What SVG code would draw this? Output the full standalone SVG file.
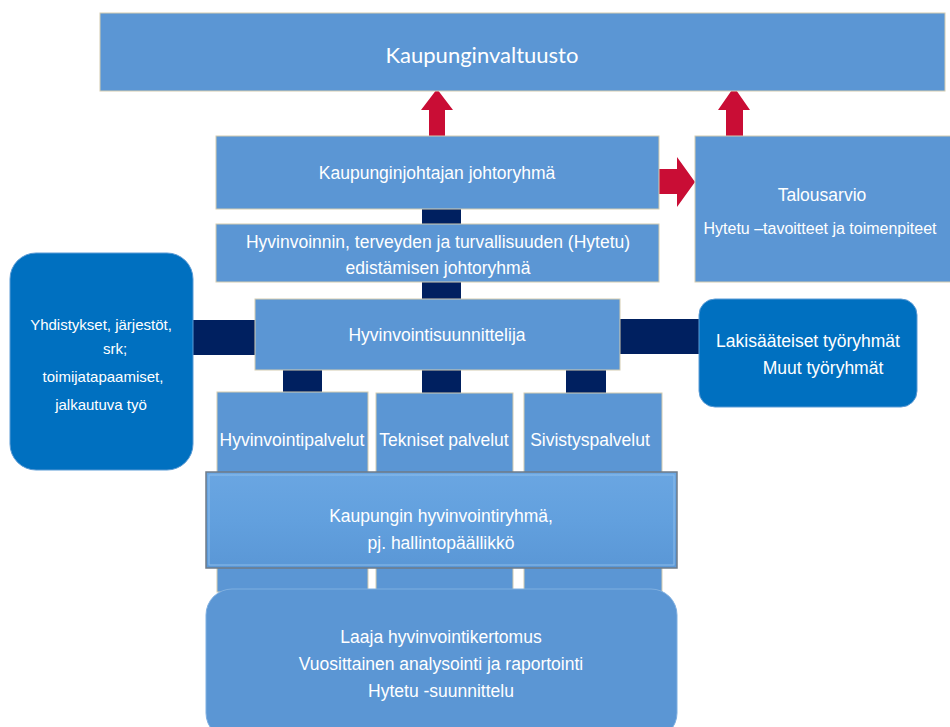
<svg xmlns="http://www.w3.org/2000/svg" width="950" height="727" viewBox="0 0 950 727">
<defs>
<style>
.box{fill:#5B96D4;stroke:#D4CCB0;stroke-width:1}
.rbox{fill:#0070C0;stroke:#5B9BD5;stroke-width:1}
.conn{fill:#002060}
.arrow{fill:#C90D35}
text{font-family:"Liberation Sans",Arial,sans-serif;fill:#ffffff;text-anchor:middle;dominant-baseline:central}
.t17{font-size:17.5px}
.t15{font-size:15px}
</style>
<linearGradient id="g1" x1="0" y1="0" x2="0" y2="1">
<stop offset="0" stop-color="#6AA6E2"/>
<stop offset="0.5" stop-color="#62A0DE"/>
<stop offset="1" stop-color="#5A97D6"/>
</linearGradient>
</defs>
<rect width="950" height="727" fill="#ffffff"/>
<g id="connectors">
<rect class="conn" x="422" y="208" width="39" height="17"/>
<rect class="conn" x="422" y="281" width="39" height="19"/>
<rect class="conn" x="192" y="320" width="64" height="35"/>
<rect class="conn" x="619" y="319" width="81" height="35"/>
<rect class="conn" x="283" y="369" width="39" height="24"/>
<rect class="conn" x="422" y="369" width="39" height="24"/>
<rect class="conn" x="566" y="369" width="40" height="24"/>
<polygon class="arrow" points="429,137 429,110 421,110 437,89 453,110 445,110 445,137"/>
<polygon class="arrow" points="726,137 726,110 718,110 734,87 750,110 743,110 743,137"/>
<polygon class="arrow" points="658,169 677,169 677,157 695,182 677,207 677,194 658,194"/>
</g>
<g id="kaupunginvaltuusto">
<rect class="box" x="100" y="13" width="845" height="78"/>
<text x="482" y="54" style="font-family:Lato,'Open Sans',sans-serif;font-size:22px">Kaupunginvaltuusto</text>
</g>
<g id="johtoryhma">
<rect class="box" x="216" y="136" width="443" height="73"/>
<text class="t17" x="437" y="173">Kaupunginjohtajan johtoryhmä</text>
</g>
<g id="talousarvio">
<rect class="box" x="695" y="136" width="262" height="146"/>
<text class="t17" x="822" y="195">Talousarvio</text>
<text x="820" y="228" style="font-size:16px">Hytetu –tavoitteet ja toimenpiteet</text>
</g>
<g id="hytetu">
<rect class="box" x="216" y="224" width="443" height="58"/>
<text class="t17" x="438" y="242">Hyvinvoinnin, terveyden ja turvallisuuden (Hytetu)</text>
<text class="t17" x="438" y="268">edistämisen johtoryhmä</text>
</g>
<g id="suunnittelija">
<rect class="box" x="255" y="299" width="365" height="71"/>
<text class="t17" x="437" y="335">Hyvinvointisuunnittelija</text>
</g>
<g id="yhdistykset">
<rect class="rbox" x="10" y="253" width="183" height="217" rx="26" ry="26"/>
<text class="t15" x="101" y="324">Yhdistykset, järjestöt,</text>
<text class="t15" x="115" y="348">srk;</text>
<text class="t15" x="103" y="376">toimijatapaamiset,</text>
<text class="t15" x="101" y="404">jalkautuva työ</text>
</g>
<g id="tyoryhmat">
<rect class="rbox" x="699" y="299" width="218" height="108" rx="16" ry="16"/>
<text class="t17" x="808" y="341">Lakisääteiset työryhmät</text>
<text class="t17" x="823" y="368">Muut työryhmät</text>
</g>
<g id="hyvinvointipalvelut">
<rect class="box" x="217" y="392" width="151" height="200"/>
<text class="t17" x="292" y="440">Hyvinvointipalvelut</text>
</g>
<g id="tekniset">
<rect class="box" x="376" y="393" width="137" height="199"/>
<text class="t17" x="444" y="440">Tekniset palvelut</text>
</g>
<g id="sivistys">
<rect class="box" x="524" y="393" width="138" height="199"/>
<text class="t17" x="590" y="440">Sivistyspalvelut</text>
</g>
<g id="hyvinvointiryhma">
<rect x="206" y="472" width="471" height="96" fill="url(#g1)" stroke="#6F7B88" stroke-width="1.5"/>
<rect x="209" y="475" width="465" height="90" fill="none" stroke="#8DBDEB" stroke-width="1"/>
<text class="t17" x="441" y="516">Kaupungin hyvinvointiryhmä,</text>
<text class="t17" x="441" y="543">pj. hallintopäällikkö</text>
</g>
<g id="kertomus">
<rect class="box" x="206" y="589" width="471" height="150" rx="26" ry="26" style="stroke:#7FAFE0"/>
<text class="t17" x="441" y="637">Laaja hyvinvointikertomus</text>
<text class="t17" x="441" y="664">Vuosittainen analysointi ja raportointi</text>
<text class="t17" x="441" y="691">Hytetu -suunnittelu</text>
</g>
</svg>
